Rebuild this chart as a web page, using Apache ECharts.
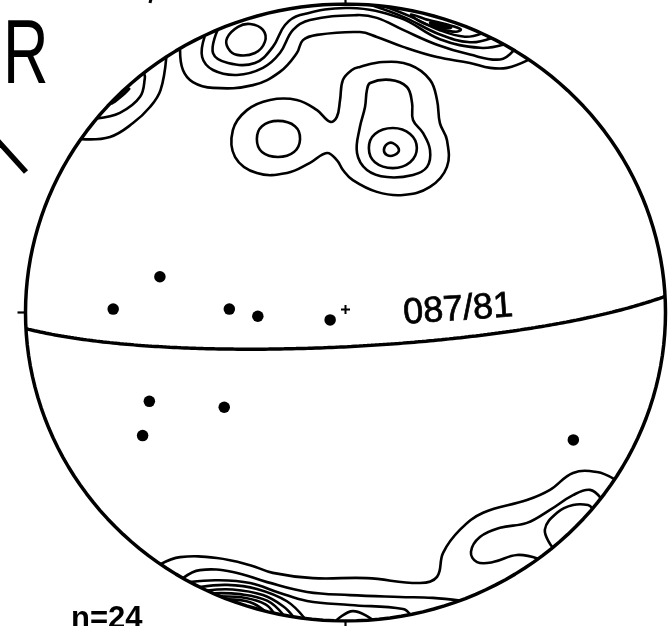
<!DOCTYPE html>
<html>
<head>
<meta charset="utf-8">
<script src="https://cdn.jsdelivr.net/npm/echarts@6/dist/echarts.min.js"></script>
<style>
  html, body { margin: 0; padding: 0; background: #fff; }
  #chart { width: 668px; height: 626px; }
</style>
</head>
<body>
<div id="chart"></div>
<script>
// Equal-area net, lower hemisphere; coordinates are in net units (primitive radius = 100).

// Plotted poles (projected x, y)
const poles = [
  [-58.0, 11.6], [-72.6, 1.1], [-36.3, 1.1], [-27.4, -1.2], [-4.8, -2.4],
  [-61.3, -28.8], [-37.9, -30.7], [-63.4, -39.9], [71.2, -41.3]
];

// Mean plane (strike / dip, right-hand rule)
const planeStrike = 87;
const planeDip = 81;
const planeLabel = '087/81';
const planeLabelAt = [35.2, 0.8];

const sampleCount = 'n=24';

// Density contours, north margin
const northOuter = [[-51.7,85.1],[-50.8,78.6],[-47.7,74.7],[-41.4,72.8],[-28.9,73.7],[-20.5,78.0],[-15.2,84.1],[-13.3,88.3],[-8.9,90.0],[4.5,90.9],[9.8,89.3],[18.0,86.1],[28.6,82.8],[38.9,80.9],[45.2,79.3],[50.5,79.3],[57.0,81.8]];
const northSecond = [[-44.0,89.5],[-44.8,82.8],[-41.4,78.6],[-33.9,77.0],[-25.8,79.3],[-20.5,84.1],[-16.4,91.6],[-11.1,94.8],[3.6,96.4],[9.8,95.5],[18.0,91.6],[28.6,86.8],[38.9,83.6],[48.3,82.0],[52.5,84.9]];
const northThird = [[-40.0,91.5],[-41.4,84.1],[-36.7,80.9],[-28.3,80.9],[-22.7,86.1],[-18.9,93.2],[-14.2,96.4],[1.4,98.7],[17.0,95.5],[29.5,88.6],[42.0,85.8],[49.5,86.9]];
const northLobeCore = [[-37.0,89.0],[-33.6,92.6],[-29.8,93.5],[-25.8,91.6],[-25.2,87.7],[-28.3,84.1],[-33.9,83.5],[-36.7,85.7]];
const northPeak4 = [[8.2,99.6],[18.6,95.6],[29.5,90.1],[38.9,87.6],[45.5,88.9]];
const northPeak5 = [[12.3,99.2],[20.2,96.0],[29.5,91.5],[37.3,89.4],[42.5,90.4]];
const northPeak6 = [[20.5,96.6],[26.0,94.8],[31.5,93.4],[36.0,91.8],[34.5,91.0],[29.5,92.0],[23.5,94.2]];
const northPeak7 = [[26.5,94.0],[30.5,93.0],[33.0,92.3],[30.0,92.4],[27.0,93.4]];

// Density contours, north-west margin
const westOuter = [[-82.5,56.2],[-73.6,56.9],[-66.4,61.4],[-61.1,66.6],[-57.8,72.1],[-56.0,82.8]];
const westInner = [[-77.7,62.9],[-70.5,64.7],[-64.2,69.9],[-62.7,76.0],[-63.0,77.6]];
const westCore = [[-73.0,67.8],[-70.0,70.3],[-67.6,72.5],[-69.0,71.0],[-71.8,68.6]];

// Density contours, central cluster
const centralOuter = [[2.0,78.6],[-0.8,75.4],[-1.7,68.9],[-2.7,63.4],[-4.8,61.8],[-8.9,65.6],[-15.2,68.9],[-23.6,68.9],[-30.8,65.6],[-35.2,59.1],[-34.5,50.4],[-27.7,45.2],[-18.3,45.2],[-11.1,48.5],[-5.8,51.7],[-2.7,49.4],[-0.8,46.2],[2.3,42.9],[9.8,39.1],[18.0,38.1],[26.4,40.7],[31.7,47.2],[31.7,55.9],[29.5,61.4],[28.6,68.9],[26.4,75.4],[20.2,80.2],[11.7,81.2],[4.5,79.6]];
const centralLeft = [[-27.7,56.2],[-26.1,60.4],[-21.1,62.1],[-15.8,60.4],[-14.2,56.2],[-16.1,52.0],[-21.1,50.4],[-26.1,52.0]];
const centralRight2 = [[6.7,72.1],[7.7,74.4],[13.9,75.4],[19.2,73.1],[20.8,67.9],[21.1,62.4],[24.2,58.2],[26.4,52.7],[25.5,47.2],[21.1,44.6],[13.0,43.9],[6.7,46.2],[3.6,51.7],[4.5,60.1],[6.1,66.6]];
const centralRight3 = [[7.3,53.3],[9.2,57.9],[14.8,59.8],[20.2,57.9],[22.3,53.3],[20.2,48.7],[14.8,46.8],[9.2,48.7]];
const centralRight4 = [[12.0,52.7],[13.0,54.6],[14.8,54.9],[16.7,52.7],[15.2,51.0],[13.0,51.0]];

// Density contours, south margin
const southOuter = [[-57.8,-81.6],[-51.7,-79.3],[-40.2,-79.6],[-29.8,-81.9],[-22.7,-84.4],[-10.2,-86.1],[6.7,-86.1],[23.3,-87.7],[28.6,-85.7],[30.5,-77.9],[35.8,-70.4],[43.0,-64.9],[56.7,-60.8],[63.9,-57.5],[71.1,-52.0],[78.6,-51.7],[84.0,-54.0]];
const south2 = [[-50.8,-86.1],[-45.5,-83.5],[-35.2,-84.1],[-24.5,-87.4],[-12.0,-90.6],[1.4,-91.6],[17.0,-92.2],[27.3,-92.5],[35.8,-93.4]];
const south3 = [[-48.6,-87.4],[-40.2,-86.8],[-29.8,-87.7],[-20.5,-90.9],[-12.0,-93.5],[1.4,-94.8],[18.0,-96.1],[20.2,-97.9]];
const south4 = [[-45.5,-89.0],[-37.0,-88.3],[-27.7,-89.6],[-18.3,-93.6],[-12.8,-99.1]];
const south5 = [[-43.3,-90.1],[-35.2,-89.8],[-25.8,-91.6],[-19.5,-95.2],[-16.3,-98.6]];
const south6 = [[-41.4,-91.0],[-33.0,-91.3],[-24.5,-93.4],[-19.5,-97.9]];
const south7 = [[-39.2,-92.0],[-30.8,-92.6],[-25.0,-94.6],[-22.4,-97.4]];
const south8 = [[-36.7,-93.0],[-29.8,-93.9],[-25.4,-96.6]];
const southBump = [[-3.0,-99.9],[2.3,-96.8],[8.5,-99.6]];
const southEast2 = [[60.2,-79.8],[53.6,-78.6],[46.1,-80.9],[41.1,-80.9],[39.2,-77.6],[42.0,-72.8],[48.3,-69.8],[56.7,-68.2],[63.9,-64.0],[71.1,-59.2],[76.4,-57.5],[79.8,-60.2]];
const southEast3 = [[64.7,-76.2],[62.3,-70.4],[66.1,-64.9],[71.1,-62.4],[75.8,-62.4],[77.2,-63.6]];

// [line, closed?]
const contours = [
  [northOuter, false], [northSecond, false], [northThird, false], [northLobeCore, true],
  [northPeak4, false], [northPeak5, false], [northPeak6, true], [northPeak7, true],
  [westOuter, false], [westInner, false], [westCore, true],
  [centralOuter, true], [centralLeft, true], [centralRight2, true], [centralRight3, true], [centralRight4, true],
  [southOuter, false], [south2, false], [south3, false], [south4, false], [south5, false],
  [south6, false], [south7, false], [south8, false], [southBump, false],
  [southEast2, false], [southEast3, false]
];

const RAD = Math.PI / 180;

// Primitive circle of the net
function primitive() {
  const pts = [];
  for (let a = 0; a <= 360; a += 2) pts.push([100 * Math.sin(a * RAD), 100 * Math.cos(a * RAD)]);
  return pts;
}

// Lower-hemisphere equal-area trace of a plane given strike and dip
function greatCircle(strike, dip) {
  const s = [Math.sin(strike * RAD), Math.cos(strike * RAD), 0];
  const dd = (strike + 90) * RAD;
  const d = [Math.sin(dd) * Math.cos(dip * RAD), Math.cos(dd) * Math.cos(dip * RAD), Math.sin(dip * RAD)];
  const pts = [];
  for (let r = 0; r <= 180; r += 1) {
    const c = Math.cos(r * RAD), sn = Math.sin(r * RAD);
    let v = [c * s[0] + sn * d[0], c * s[1] + sn * d[1], c * s[2] + sn * d[2]];
    if (v[2] < 0) v = v.map(k => -k);
    const plunge = Math.asin(Math.min(1, v[2]));
    const trend = Math.atan2(v[0], v[1]);
    const R = 100 * Math.SQRT2 * Math.sin((Math.PI / 2 - plunge) / 2);
    pts.push([R * Math.sin(trend), R * Math.cos(trend)]);
  }
  return pts;
}

// Frame ticks (N, S, W) and centre cross
const frameTicks = [
  [[0, 100], [0, 101.4]],
  [[0, -100], [0, -101.7]],
  [[-100, 0], [-102.5, 0]]
];
const centreMark = [0, 0];

const chart = echarts.init(document.getElementById('chart'), null, { renderer: 'canvas' });

chart.setOption({
  animation: false,
  backgroundColor: '#fff',
  grid: { left: 25.5, top: 4, width: 640, height: 617 },
  xAxis: { type: 'value', min: -100, max: 100, show: false },
  yAxis: { type: 'value', min: -100, max: 100, show: false },
  graphic: [
    {
      type: 'text', x: 3, y: 58, scaleX: 0.7, silent: true,
      style: { text: 'R', x: 0, y: 0, font: '90px "Liberation Sans", Arial, sans-serif', fill: '#000', textAlign: 'left', textVerticalAlign: 'middle' }
    },
    {
      type: 'line', silent: true,
      shape: { x1: -2, y1: 141, x2: 26, y2: 172 },
      style: { stroke: '#000', lineWidth: 5.5 }
    },
    {
      type: 'line', silent: true,
      shape: { x1: 151, y1: -1, x2: 150, y2: 3 },
      style: { stroke: '#000', lineWidth: 3 }
    },
    {
      type: 'text', x: 71, y: 619, silent: true,
      style: { text: sampleCount, font: 'bold 31px "Liberation Sans", Arial, sans-serif', fill: '#000', textAlign: 'left', textVerticalAlign: 'middle' }
    }
  ],
  series: [
    {
      type: 'line', data: primitive(), showSymbol: false, silent: true,
      lineStyle: { color: '#000', width: 3.5 }
    },
    {
      type: 'line', data: greatCircle(planeStrike, planeDip), showSymbol: false, silent: true,
      lineStyle: { color: '#000', width: 3.5 }
    },
    {
      type: 'custom', coordinateSystem: 'cartesian2d', silent: true,
      data: contours.map((c, i) => [0, 0, i]),
      encode: { x: 0, y: 1 },
      renderItem: function (params, api) {
        const c = contours[params.dataIndex];
        return {
          type: c[1] ? 'polygon' : 'polyline',
          shape: { points: c[0].map(p => api.coord(p)), smooth: 0.4 },
          style: { fill: 'none', stroke: '#000', lineWidth: 2.6 }
        };
      }
    },
    {
      type: 'custom', coordinateSystem: 'cartesian2d', silent: true,
      data: frameTicks.map((t, i) => [0, 0, i]),
      encode: { x: 0, y: 1 },
      renderItem: function (params, api) {
        const t = frameTicks[params.dataIndex];
        const a = api.coord(t[0]), b = api.coord(t[1]);
        return {
          type: 'line',
          shape: { x1: a[0], y1: a[1], x2: b[0], y2: b[1] },
          style: { stroke: '#000', lineWidth: 2.2 }
        };
      }
    },
    {
      type: 'custom', coordinateSystem: 'cartesian2d', silent: true,
      data: [centreMark],
      renderItem: function (params, api) {
        const p = api.coord(centreMark);
        return {
          type: 'group',
          children: [
            { type: 'line', shape: { x1: p[0] - 4.5, y1: p[1] - 3, x2: p[0] + 4.5, y2: p[1] - 3 }, style: { stroke: '#000', lineWidth: 2 } },
            { type: 'line', shape: { x1: p[0], y1: p[1] - 7.5, x2: p[0], y2: p[1] + 1.5 }, style: { stroke: '#000', lineWidth: 2 } }
          ]
        };
      }
    },
    {
      type: 'scatter', data: poles, symbol: 'circle', symbolSize: 11.5, silent: true,
      itemStyle: { color: '#000', opacity: 1 }
    },
    {
      type: 'scatter', data: [planeLabelAt], symbolSize: 0, silent: true,
      itemStyle: { color: '#000', opacity: 1 },
      label: {
        show: true, position: 'inside', formatter: planeLabel, rotate: 4,
        color: '#000', opacity: 1, fontSize: 36, fontFamily: '"Liberation Sans", Arial, sans-serif',
        textBorderColor: '#000', textBorderWidth: 0.7
      }
    }
  ]
});
</script>
</body>
</html>
